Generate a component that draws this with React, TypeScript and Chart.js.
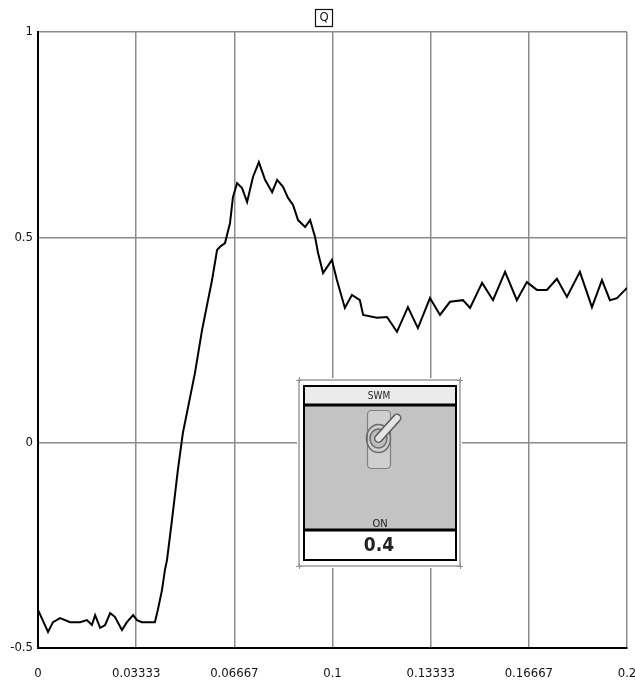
import { useEffect, useRef } from 'react';
import { Chart, registerables } from 'chart.js';

Chart.register(...registerables);

const TIME = [
  0, 0.0034, 0.0051, 0.0075, 0.0109, 0.0143, 0.0166, 0.0183, 0.0194, 0.0211,
  0.0228, 0.0245, 0.0261, 0.0285, 0.0302, 0.0323, 0.0336, 0.0353, 0.0397, 0.0407,
  0.0421, 0.0431, 0.0438, 0.0455, 0.0475, 0.0492, 0.0533, 0.0557, 0.0591, 0.0608,
  0.0618, 0.0635, 0.0652, 0.0662, 0.0676, 0.0693, 0.071, 0.073, 0.075, 0.0771,
  0.0795, 0.0812, 0.0832, 0.0849, 0.0866, 0.0883, 0.0907, 0.0924, 0.0941, 0.0951,
  0.0968, 0.0998, 0.1015, 0.1042, 0.1066, 0.1093, 0.1104, 0.1151, 0.1185, 0.1219,
  0.1256, 0.129, 0.1331, 0.1365, 0.1399, 0.1443, 0.1467, 0.1508, 0.1545, 0.1586,
  0.1626, 0.166, 0.1694, 0.1728, 0.1762, 0.1796, 0.184, 0.1881, 0.1915, 0.1942,
  0.1966, 0.2,
];

const Q = [
  -0.407, -0.461, -0.437, -0.427, -0.437, -0.437, -0.432, -0.444, -0.42, -0.451,
  -0.444, -0.415, -0.424, -0.456, -0.437, -0.42, -0.432, -0.437, -0.437, -0.407,
  -0.359, -0.31, -0.286, -0.188, -0.066, 0.024, 0.17, 0.274, 0.396, 0.469,
  0.477, 0.486, 0.535, 0.598, 0.632, 0.62, 0.586, 0.647, 0.683, 0.64,
  0.61, 0.64, 0.623, 0.596, 0.579, 0.542, 0.525, 0.542, 0.5, 0.462,
  0.413, 0.445, 0.396, 0.328, 0.36, 0.347, 0.311, 0.304, 0.306, 0.27,
  0.33, 0.279, 0.352, 0.311, 0.343, 0.347, 0.328, 0.389, 0.347, 0.416,
  0.347, 0.391, 0.372, 0.372, 0.399, 0.355, 0.416, 0.33, 0.396, 0.347,
  0.352, 0.377,
];

const X_TICKS = [0, 0.033333, 0.066667, 0.1, 0.133333, 0.166667, 0.2];
const X_LABELS = ['0', '0.03333', '0.06667', '0.1', '0.13333', '0.16667', '0.2'];
const Y_TICKS = [-0.5, 0, 0.5, 1];
const Y_LABELS = ['-0.5', '0', '0.5', '1'];

const TITLE = 'Q';
const SWITCH_NAME = 'SWM';
const SWITCH_STATE = 'ON';
const SWITCH_VALUE = '0.4';

const FONT = "'Liberation Sans Narrow', 'DejaVu Sans', sans-serif";

function labelFor(ticks: number[], labels: string[], v: number) {
  let best = 0;
  for (let i = 1; i < ticks.length; i++) {
    if (Math.abs(ticks[i] - v) < Math.abs(ticks[best] - v)) best = i;
  }
  return labels[best];
}

const decorPlugin = {
  id: 'decor',
  afterDraw(chart: any) {
    const ctx = chart.ctx as CanvasRenderingContext2D;
    ctx.save();
    // title box
    ctx.font = `condensed 13px ${FONT}`;
    ctx.fillStyle = '#111';
    ctx.textAlign = 'center';
    ctx.textBaseline = 'middle';
    ctx.fillText(TITLE, 324, 18);
    ctx.strokeStyle = '#111';
    ctx.lineWidth = 1.2;
    ctx.strokeRect(315.5, 9.5, 17, 17);

    // switch widget
    ctx.fillStyle = '#ffffff';
    ctx.fillRect(297, 378, 165, 190);
    ctx.strokeStyle = '#b4b4b4';
    ctx.lineWidth = 2;
    ctx.strokeRect(299, 380, 161, 186);
    ctx.strokeStyle = '#909090';
    ctx.lineWidth = 1;
    const corners = [[299, 380], [460, 380], [299, 566], [460, 566]];
    corners.forEach(([cx, cy]) => {
      ctx.beginPath();
      ctx.moveTo(cx - 3, cy + 0.5);
      ctx.lineTo(cx + 3, cy + 0.5);
      ctx.moveTo(cx + 0.5, cy - 3);
      ctx.lineTo(cx + 0.5, cy + 3);
      ctx.stroke();
    });
    ctx.fillStyle = '#ebebeb';
    ctx.fillRect(304, 386, 152, 18);
    ctx.fillStyle = '#c3c3c3';
    ctx.fillRect(304, 405, 152, 124);
    ctx.fillStyle = '#ffffff';
    ctx.fillRect(304, 531, 152, 28);
    ctx.strokeStyle = '#000';
    ctx.lineWidth = 3;
    ctx.beginPath();
    ctx.moveTo(304, 405);
    ctx.lineTo(456, 405);
    ctx.moveTo(304, 530);
    ctx.lineTo(456, 530);
    ctx.stroke();
    ctx.lineWidth = 2;
    ctx.strokeRect(304, 386, 152, 174);

    // toggle plate
    ctx.fillStyle = '#cfcfcf';
    ctx.strokeStyle = '#808080';
    ctx.lineWidth = 1.2;
    ctx.beginPath();
    (ctx as any).roundRect(367.5, 410.5, 23, 58, 4);
    ctx.fill();
    ctx.stroke();
    ctx.beginPath();
    ctx.ellipse(378.5, 438.5, 12, 14, 0, 0, Math.PI * 2);
    ctx.strokeStyle = '#6a6a6a';
    ctx.lineWidth = 1.5;
    ctx.stroke();
    ctx.beginPath();
    ctx.ellipse(378.5, 438.5, 8.5, 9.5, 0, 0, Math.PI * 2);
    ctx.fillStyle = '#bdbdbd';
    ctx.fill();
    ctx.stroke();
    ctx.lineCap = 'round';
    ctx.strokeStyle = '#5a5a5a';
    ctx.lineWidth = 9;
    ctx.beginPath();
    ctx.moveTo(378.5, 438.5);
    ctx.lineTo(397, 418);
    ctx.stroke();
    ctx.strokeStyle = '#e4e4e4';
    ctx.lineWidth = 6;
    ctx.beginPath();
    ctx.moveTo(378.5, 438.5);
    ctx.lineTo(397, 418);
    ctx.stroke();

    ctx.fillStyle = '#222';
    ctx.textAlign = 'center';
    ctx.textBaseline = 'middle';
    ctx.font = `condensed 10px ${FONT}`;
    ctx.fillText(SWITCH_NAME, 379, 396);
    ctx.font = `condensed 11px ${FONT}`;
    ctx.fillText(SWITCH_STATE, 380, 524);
    ctx.font = `condensed bold 19px ${FONT}`;
    ctx.fillText(SWITCH_VALUE, 379, 546);
    ctx.restore();
  },
};

export default function App() {
  const ref = useRef<HTMLCanvasElement | null>(null);
  useEffect(() => {
    document.body.style.margin = '0';
    document.body.style.overflow = 'hidden';
    if (!ref.current) return;
    const points = TIME.map((t, i) => ({ x: t, y: Q[i] }));
    const tickFont = { family: FONT, size: 13, weight: 'condensed' as any };
    const chart = new Chart(ref.current, {
      type: 'line',
      data: {
        datasets: [
          {
            label: TITLE,
            data: points,
            borderColor: '#000',
            borderWidth: 2,
            pointRadius: 0,
            tension: 0,
            fill: false,
          },
        ],
      },
      options: {
        animation: false,
        responsive: false,
        layout: { padding: { top: 32, right: 8, left: 0, bottom: 0 } },
        plugins: {
          legend: { display: false },
          title: { display: false },
          tooltip: { enabled: false },
        },
        scales: {
          x: {
            type: 'linear',
            min: 0,
            max: 0.2,
            afterBuildTicks: (s: any) => {
              s.ticks = X_TICKS.map((v) => ({ value: v }));
            },
            afterFit: (s: any) => {
              s.height = 36;
              s.paddingLeft = 0;
              s.paddingRight = 0;
            },
            ticks: {
              autoSkip: false,
              maxRotation: 0,
              padding: 18,
              color: '#111',
              font: tickFont,
              callback: (v: any) => labelFor(X_TICKS, X_LABELS, Number(v)),
            },
            grid: { color: '#8c8c8c', lineWidth: 1.5, drawTicks: false },
            border: { color: '#000', width: 2 },
          },
          y: {
            type: 'linear',
            min: -0.5,
            max: 1,
            afterBuildTicks: (s: any) => {
              s.ticks = Y_TICKS.map((v) => ({ value: v }));
            },
            afterFit: (s: any) => {
              s.width = 38;
              s.paddingTop = 0;
              s.paddingBottom = 0;
            },
            ticks: {
              autoSkip: false,
              padding: 5,
              color: '#111',
              font: tickFont,
              callback: (v: any) => labelFor(Y_TICKS, Y_LABELS, Number(v)),
            },
            grid: { color: '#8c8c8c', lineWidth: 1.5, drawTicks: false },
            border: { color: '#000', width: 2 },
          },
        },
      },
      plugins: [decorPlugin],
    });
    return () => chart.destroy();
  }, []);
  return <canvas ref={ref} width={635} height={684} style={{ display: 'block' }} />;
}
